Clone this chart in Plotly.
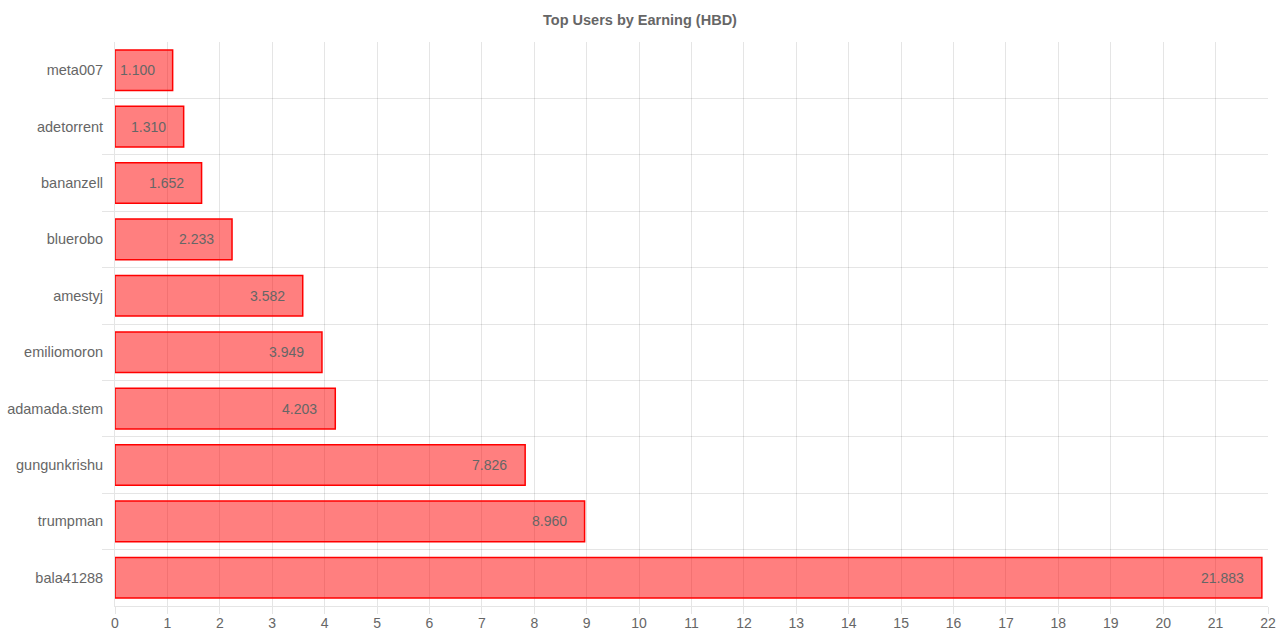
import plotly.graph_objects as go

users = ["meta007", "adetorrent", "bananzell", "bluerobo", "amestyj",
         "emiliomoron", "adamada.stem", "gungunkrishu", "trumpman", "bala41288"]
earnings = [1.100, 1.310, 1.652, 2.233, 3.582, 3.949, 4.203, 7.826, 8.960, 21.883]
x_ticks = list(range(0, 23))

grid = "rgba(0,0,0,0.1)"
font_family = "Liberation Sans, Arial, Helvetica, sans-serif"

pos = list(range(len(users)))
boundaries = [i + 0.5 for i in pos[:-1]]

fig = go.Figure()
fig.add_trace(go.Bar(
    x=earnings, y=pos, orientation="h", width=0.72,
    marker=dict(color="rgba(255,0,0,0.5)", line=dict(color="rgb(255,0,0)", width=1.5)),
    customdata=users, hovertemplate="%{customdata}: %{x}<extra></extra>",
))

for p, v in zip(pos, earnings):
    fig.add_annotation(x=v, y=p, text=f"{v:.3f}", showarrow=False,
                       xanchor="right", xshift=-16,
                       font=dict(family=font_family, size=14, color="#666"))

fig.update_layout(
    width=1280, height=639,
    margin=dict(l=115, r=12, t=42, b=33, autoexpand=False),
    paper_bgcolor="white", plot_bgcolor="white",
    showlegend=False,
    font=dict(family=font_family, size=14, color="#666"),
    title=dict(text="<b>Top Users by Earning (HBD)</b>", x=0.5, xanchor="center",
               y=1 - 20 / 639, yanchor="middle",
               font=dict(family=font_family, size=14.5, color="#666")),
    xaxis=dict(range=[0, 22], tickvals=x_ticks, showgrid=True, gridcolor=grid, gridwidth=1,
               zeroline=False, showline=True, linecolor=grid, linewidth=1,
               ticks="outside", ticklen=7, tickcolor=grid, automargin=False,
               ticklabelstandoff=-3,
               tickfont=dict(size=14, color="#666")),
    yaxis=dict(range=[len(users) - 0.5, -0.5], tickvals=pos, ticktext=users,
               showgrid=False, zeroline=False,
               showline=True, linecolor=grid, linewidth=1,
               ticks="", automargin=False,
               ticklabelstandoff=8,
               tickfont=dict(size=14.5, color="#666"),
               minor=dict(tickvals=boundaries, showgrid=True, gridcolor=grid, gridwidth=1,
                          ticks="outside", ticklen=12, tickcolor=grid)),
)

fig.write_html("out.html")
